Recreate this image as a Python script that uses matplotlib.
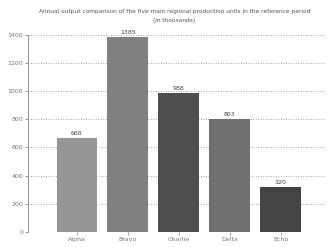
import matplotlib
matplotlib.use("Agg")
import matplotlib.pyplot as plt
import numpy as np

categories = ["Alpha", "Bravo", "Charlie", "Delta", "Echo"]
values = [668, 1385, 988, 803, 320]
yticks = [0, 200, 400, 600, 800, 1000, 1200, 1400]
colors = ["#969696", "#808080", "#4e4e4e", "#707070", "#444444"]

fig = plt.figure(figsize=(3.29, 2.47), dpi=100)
ax = fig.add_axes([0.085, 0.06, 0.905, 0.80])

x = np.arange(len(categories))
bars = ax.bar(x, values, width=0.8, color=colors, zorder=2)
for b, v in zip(bars, values):
    ax.text(b.get_x() + b.get_width() / 2, v + 15, f"{v}", ha="center", va="bottom",
            fontsize=4.5, color="#444444", zorder=3)

ax.set_ylim(0, 1400)
ax.set_xlim(-0.96, 4.88)
ax.set_yticks(yticks)
ax.set_yticklabels([str(t) for t in yticks], fontsize=4.5, color="#555555")
ax.set_xticks(x)
ax.set_xticklabels(categories, fontsize=4.5, color="#555555")
ax.tick_params(axis="both", length=2, width=0.5, pad=1.5, colors="#777777")
ax.yaxis.grid(True, linestyle=(0, (1, 2)), linewidth=0.6, color="#888888", zorder=0)
for s in ["top", "right", "bottom"]:
    ax.spines[s].set_visible(False)
ax.spines["left"].set_linewidth(0.6)
ax.spines["left"].set_color("#888888")

fig.text(0.53, 0.955, "Annual output comparison of the five main regional production units in the reference period",
         ha="center", va="center", fontsize=4.2, color="#555555")
fig.text(0.53, 0.915, "(in thousands)", ha="center", va="center", fontsize=4.2, color="#555555")

fig.savefig("out.png", dpi=100)
